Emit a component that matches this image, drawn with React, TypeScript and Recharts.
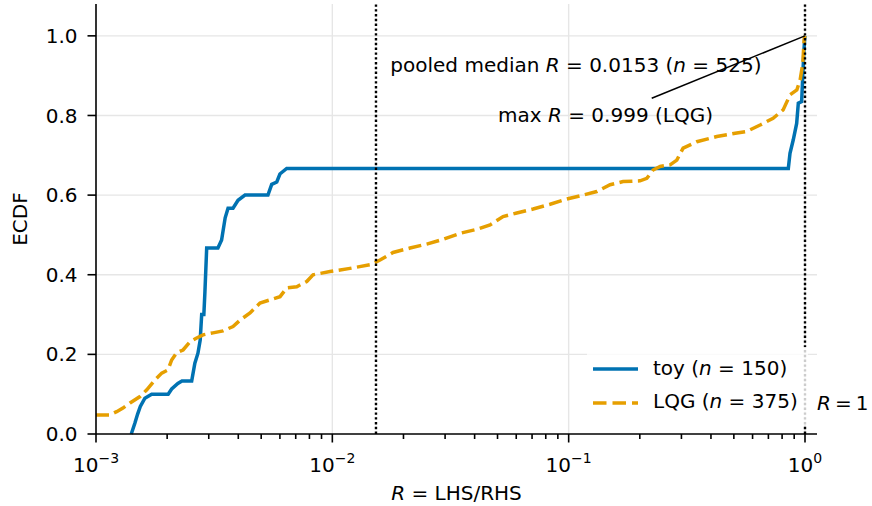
import React from 'react';
import {
  LineChart,
  Line,
  XAxis,
  YAxis,
  CartesianGrid,
  ReferenceLine,
  ReferenceDot,
} from 'recharts';

// ---- data ----
const toyR = [
  0.00141, 0.00146, 0.0015, 0.00154, 0.00161, 0.00172, 0.00202, 0.00209, 0.00222, 0.00231,
  0.00254, 0.00262, 0.0027, 0.00276, 0.0028, 0.00286, 0.00289, 0.00294, 0.00328, 0.0034,
  0.00352, 0.00362, 0.0038, 0.00399, 0.00427, 0.00534, 0.00554, 0.00582, 0.006, 0.00641,
  0.85, 0.864, 0.892, 0.922, 0.937, 0.968, 0.978, 0.99, 0.999,
];
const toyCdf = [
  0.0, 0.027, 0.05, 0.069, 0.09, 0.1, 0.1, 0.113, 0.127, 0.133,
  0.133, 0.178, 0.203, 0.236, 0.3, 0.3, 0.357, 0.467, 0.467, 0.487,
  0.543, 0.567, 0.567, 0.587, 0.6, 0.6, 0.627, 0.633, 0.653, 0.667,
  0.667, 0.705, 0.739, 0.78, 0.831, 0.835, 0.898, 0.965, 1.0,
];

const lqgR = [
  0.001, 0.001146, 0.001223, 0.0013, 0.001393, 0.001535, 0.00164, 0.001777, 0.001897, 0.002017,
  0.00209, 0.002195, 0.002335, 0.0025, 0.002667, 0.002837, 0.003127, 0.003448, 0.0038, 0.004069,
  0.004485, 0.004943, 0.005451, 0.006007, 0.006412, 0.00707, 0.007794, 0.008284, 0.009777, 0.01188,
  0.01444, 0.01592, 0.01807, 0.02132, 0.02509, 0.02941, 0.0347, 0.04085, 0.04649, 0.05277,
  0.06031, 0.07071, 0.08343, 0.09817, 0.1151, 0.1315, 0.1497, 0.1699, 0.2005, 0.2141,
  0.2276, 0.2437, 0.2686, 0.2868, 0.305, 0.3484, 0.4235, 0.5145, 0.5673, 0.6457,
  0.7328, 0.8079, 0.865, 0.9233, 0.9535, 0.9788, 0.9913, 0.999,
];
const lqgCdf = [
  0.048, 0.048, 0.056, 0.065, 0.078, 0.094, 0.111, 0.136, 0.153, 0.161,
  0.186, 0.204, 0.211, 0.232, 0.241, 0.249, 0.254, 0.259, 0.27, 0.286,
  0.304, 0.329, 0.337, 0.345, 0.367, 0.37, 0.383, 0.4, 0.408, 0.416,
  0.425, 0.437, 0.456, 0.467, 0.477, 0.489, 0.504, 0.514, 0.525, 0.546,
  0.555, 0.565, 0.577, 0.59, 0.6, 0.609, 0.626, 0.634, 0.636, 0.642,
  0.663, 0.672, 0.676, 0.688, 0.718, 0.734, 0.747, 0.756, 0.76, 0.776,
  0.793, 0.814, 0.852, 0.864, 0.889, 0.931, 0.99, 1.0,
];

const pooledMedian = 0.0153;
const maxR = 0.999;
const xMajorTicks = [0.001, 0.01, 0.1, 1];
const xMinorMultipliers = [2, 3, 4, 5, 6, 7, 8, 9];
const yTicks = [0, 0.2, 0.4, 0.6, 0.8, 1.0];

const BLUE = '#0072B2';
const ORANGE = '#E69F00';
const FONT = "'DejaVu Sans', sans-serif";

const toyData = toyR.map((r, i) => ({ r, cdf: toyCdf[i] }));
const lqgData = lqgR.map((r, i) => ({ r, cdf: lqgCdf[i] }));

const xTicks: number[] = [];
for (const m of xMajorTicks) {
  xTicks.push(m);
  if (m < 1) for (const k of xMinorMultipliers) xTicks.push(+(m * k).toPrecision(6));
}

const XTick = (props: any) => {
  const { x, y, payload } = props;
  const v = payload.value as number;
  const lg = Math.log10(v);
  const exp = Math.round(lg);
  const major = Math.abs(lg - exp) < 1e-6;
  const sup = exp < 0 ? '\u2212' + Math.abs(exp) : String(exp);
  return (
    <g>
      <line x1={x} x2={x} y1={y} y2={y + (major ? 8.5 : 5)} stroke="#000" strokeWidth={1.6} />
      {major && (
        <text x={x} y={y + 38} textAnchor="middle" fontSize={20} fill="#000" fontFamily={FONT}>
          <tspan>10</tspan>
          <tspan dy={-9} fontSize={14}>{sup}</tspan>
        </text>
      )}
    </g>
  );
};

const textLabel = (content: React.ReactNode, anchor: 'start' | 'middle' | 'end', dx = 0) =>
  (p: any) => {
    const vb = p.viewBox || {};
    return (
      <text x={vb.x + dx} y={vb.y} textAnchor={anchor} fontSize={20} fill="#000" fontFamily={FONT}>
        {content}
      </text>
    );
  };

export default function App() {
  return (
    <div style={{ position: 'relative', width: 872, height: 506, fontFamily: FONT }}>
      <style>{'body{margin:0}'}</style>
      <LineChart width={872} height={506} margin={{ top: 4, right: 55, left: 0, bottom: 0 }}>
        <CartesianGrid
          horizontalValues={[0.2, 0.4, 0.6, 0.8, 1.0]}
          verticalValues={[0.01, 0.1, 1]}
          stroke="#e6e6e6"
          strokeWidth={1.4}
        />
        <XAxis
          dataKey="r"
          type="number"
          scale="log"
          domain={[0.001, 1.124]}
          allowDataOverflow
          ticks={xTicks}
          interval={0}
          tick={<XTick />}
          tickLine={false}
          tickSize={0}
          tickMargin={0}
          height={72}
          axisLine={{ stroke: '#000', strokeWidth: 1.6 }}
          label={{
            content: (p: any) => {
              const vb = p.viewBox;
              return (
                <text x={vb.x + vb.width / 2} y={500} textAnchor="middle" fontSize={20} fill="#000" fontFamily={FONT}>
                  <tspan fontStyle="italic">R</tspan>
                  <tspan> = LHS/RHS</tspan>
                </text>
              );
            },
          }}
        />
        <YAxis
          type="number"
          domain={[0, 1.08]}
          ticks={yTicks}
          width={96}
          tickSize={8.5}
          tickMargin={10}
          tickFormatter={(v: number) => v.toFixed(1)}
          tick={{ fontSize: 20, fill: '#000', fontFamily: FONT }}
          tickLine={{ stroke: '#000', strokeWidth: 1.6 }}
          axisLine={{ stroke: '#000', strokeWidth: 1.6 }}
          label={{
            content: () => (
              <text
                x={27}
                y={219}
                transform="rotate(-90, 27, 219)"
                textAnchor="middle"
                fontSize={20}
                fill="#000"
                fontFamily={FONT}
              >
                ECDF
              </text>
            ),
          }}
        />
        <Line
          data={toyData}
          dataKey="cdf"
          type="linear"
          stroke={BLUE}
          strokeWidth={3.5}
          dot={false}
          activeDot={false}
          isAnimationActive={false}
        />
        <Line
          data={lqgData}
          dataKey="cdf"
          type="linear"
          stroke={ORANGE}
          strokeWidth={3.5}
          strokeDasharray="13 5.5"
          dot={false}
          activeDot={false}
          isAnimationActive={false}
        />
        <ReferenceLine x={pooledMedian} stroke="#000" strokeWidth={2.4} strokeDasharray="2.4 2.4" />
        <ReferenceLine x={1} stroke="#000" strokeWidth={2.4} strokeDasharray="2.4 2.4" />
        <ReferenceLine
          segment={[
            { x: maxR, y: 1.0 },
            { x: 0.2246, y: 0.8433 },
          ]}
          stroke="#000"
          strokeWidth={1.5}
        />
        <ReferenceDot
          x={0.0176}
          y={0.908}
          r={0}
          fill="none"
          stroke="none"
          ifOverflow="visible"
          label={textLabel(
            <>
              <tspan>pooled median </tspan>
              <tspan fontStyle="italic">R</tspan>
              <tspan> = 0.0153 (</tspan>
              <tspan fontStyle="italic">n</tspan>
              <tspan> = 525)</tspan>
            </>,
            'start'
          )}
        />
        <ReferenceDot
          x={0.1432}
          y={0.7845}
          r={0}
          fill="none"
          stroke="none"
          ifOverflow="visible"
          label={textLabel(
            <>
              <tspan>max </tspan>
              <tspan fontStyle="italic">R</tspan>
              <tspan> = 0.999 (LQG)</tspan>
            </>,
            'middle'
          )}
        />
        <ReferenceDot
          x={1}
          y={0.0603}
          r={0}
          fill="none"
          stroke="none"
          ifOverflow="visible"
          label={textLabel(
            <>
              <tspan fontStyle="italic">R</tspan>
              <tspan>{'\u2009=\u20091'}</tspan>
            </>,
            'start',
            12
          )}
        />
      </LineChart>
      <svg
        width={221}
        height={78}
        style={{ position: 'absolute', left: 587, top: 347, overflow: 'visible' }}
      >
        <rect x={0} y={0} width={221} height={78} fill="#fff" fillOpacity={0.8} />
        <line x1={6} x2={51} y1={22} y2={22} stroke={BLUE} strokeWidth={3.5} />
        <line x1={6} x2={51} y1={56} y2={56} stroke={ORANGE} strokeWidth={3.5} strokeDasharray="13.5 6" />
        <text x={66} y={28} fontSize={20} fill="#000" fontFamily={FONT}>
          <tspan>toy (</tspan>
          <tspan fontStyle="italic">n</tspan>
          <tspan> = 150)</tspan>
        </text>
        <text x={66} y={61} fontSize={20} fill="#000" fontFamily={FONT}>
          <tspan>LQG (</tspan>
          <tspan fontStyle="italic">n</tspan>
          <tspan> = 375)</tspan>
        </text>
      </svg>
    </div>
  );
}
